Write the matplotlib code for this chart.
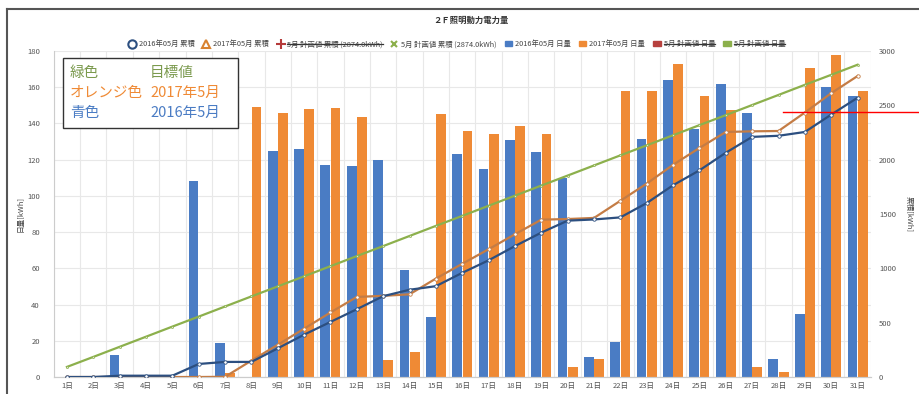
import numpy as np
import matplotlib.pyplot as plt
from matplotlib.lines import Line2D
from matplotlib.patches import Patch

plt.rcParams['font.family'] = ['Noto Sans CJK JP', 'DejaVu Sans']

days = [f"{d}日" for d in range(1, 32)]

# daily amounts [kWh]
daily_2016 = [0, 0, 12, 0, 0, 108, 19, 0, 125, 126, 117, 116.5, 120, 59, 33, 123,
              115, 131, 124, 110, 11, 19.5, 131.5, 164, 137, 162, 146, 10, 35, 160, 155]
daily_2017 = [0, 0, 0, 0, 0, 0, 2, 149, 146, 148, 148.5, 143.5, 9.5, 14, 145, 136,
              134, 138.5, 134, 5.5, 10, 158, 158, 173, 155, 147.5, 5.5, 3, 170.5, 178, 158]

# cumulative amounts [kWh]
cum_2016 = [0, 0, 12, 12, 12, 120, 139, 139, 264, 390, 507, 624, 744, 803, 836, 959,
            1074, 1205, 1329, 1439, 1450, 1469, 1601, 1765, 1902, 2064, 2210, 2220, 2255, 2415, 2570]
cum_2017 = [0, 0, 0, 0, 0, 0, 2, 151, 297, 445, 594, 737, 747, 761, 906, 1042,
            1176, 1314, 1448, 1454, 1464, 1622, 1780, 1953, 2108, 2255, 2261, 2264, 2434, 2612, 2770]
cum_plan = [93, 185, 278, 371, 464, 556, 649, 742, 834, 927, 1020, 1113, 1205, 1298, 1391, 1483,
            1576, 1669, 1762, 1854, 1947, 2040, 2132, 2225, 2318, 2410, 2503, 2596, 2689, 2781, 2874]

c_blue = '#4a7cc4'
c_orange = '#ef8a35'
c_blue_line = '#2c4f80'
c_orange_line = '#c47c45'
c_green = '#8cb04c'

x = np.arange(1, 32)
fig = plt.figure(figsize=(9.19, 3.94), dpi=100)
ax = fig.add_axes([0.0585, 0.0431, 0.889, 0.8274])
ax2 = ax.twinx()

w = 0.37
ax.bar(x - w / 2 - 0.01, daily_2016, w, color=c_blue, zorder=2)
ax.bar(x + w / 2 + 0.01, daily_2017, w, color=c_orange, zorder=2)
ax.set_ylim(0, 180)
ax.set_yticks(range(0, 181, 20))
ax.set_xlim(0.5, 31.5)
ax.set_xticks(x)
ax.set_xticklabels(days)
ax.set_xticks(np.arange(0.5, 32, 1), minor=True)
ax.grid(axis='x', which='minor', color='#e8e8e8', lw=0.8)
ax.grid(axis='y', which='major', color='#e8e8e8', lw=0.8)
ax.set_axisbelow(True)
ax.tick_params(which='both', length=0, labelsize=5.5, colors='#555555')
ax.tick_params(axis='y', pad=10)
ax.set_ylabel('日量[kWh]', fontsize=5.5, color='#444444', labelpad=2)

ax2.plot(x, cum_plan, color=c_green, lw=1.6, marker='o', ms=1.5, mfc='#dfe8cc', mec=c_green, mew=0.5, zorder=3)
ax2.plot(x, cum_2017, color=c_orange_line, lw=1.6, marker='o', ms=2.5, mfc='white', mec=c_orange_line, mew=0.6, zorder=4)
ax2.plot(x, cum_2016, color=c_blue_line, lw=1.6, marker='o', ms=2.5, mfc='white', mec=c_blue_line, mew=0.6, zorder=5)
ax2.set_ylim(0, 3000)
ax2.set_yticks(range(0, 3001, 500))
ax2.tick_params(length=0, labelsize=5.5, colors='#555555', pad=6)
ax2.set_ylabel('累積[kWh]', fontsize=5.5, color='#444444', rotation=270, labelpad=12)

for a in (ax, ax2):
    for s in ('top', 'right', 'left'):
        a.spines[s].set_visible(False)
    a.spines['bottom'].set_color('#cccccc')
ax.spines['left'].set_visible(True)
ax.spines['left'].set_color('#cccccc')

fig.text(0.512, 0.948, '２Ｆ照明動力電力量', ha='center', va='center', fontsize=6, fontweight='bold', color='#333333')

handles = [
    Line2D([], [], ls='none', marker='o', mfc='none', mec='#2c4f80', ms=6, mew=1.5),
    Line2D([], [], ls='none', marker='^', mfc='none', mec='#d9822f', ms=6, mew=1.5),
    Line2D([], [], ls='none', marker='+', mec='#b53a3a', ms=7, mew=1.5),
    Line2D([], [], ls='none', marker='x', mec=c_green, ms=5, mew=1.5),
    Patch(color=c_blue), Patch(color=c_orange), Patch(color='#b7413e'), Patch(color=c_green),
]
labels = ['2016年05月 累積', '2017年05月 累積', '5月 計画値 累積 (2874.0kWh)', '5月 計画値 累積 (2874.0kWh)',
          '2016年05月 日量', '2017年05月 日量', '5月 計画値 日量', '5月 計画値 日量']
leg = fig.legend(handles, labels, ncol=8, loc='center', bbox_to_anchor=(0.497, 0.888),
                 fontsize=5.3, frameon=False, handlelength=1.0, handletextpad=0.4,
                 columnspacing=1.1, labelcolor='#444444')

# strike through hidden series labels
fig.canvas.draw()
r = fig.canvas.get_renderer()
for i in (2, 6, 7):
    bb = leg.get_texts()[i].get_window_extent(r).transformed(fig.transFigure.inverted())
    ym = (bb.y0 + bb.y1) / 2
    fig.add_artist(Line2D([bb.x0, bb.x1], [ym, ym], color='#333333', lw=0.9))

# note box
fig.add_artist(plt.Rectangle((63 / 919, 1 - 128 / 394), 175 / 919, 70 / 394,
                             transform=fig.transFigure, fill=True, fc='white',
                             ec='#333333', lw=1.0, zorder=10))
rows = [('緑色', '目標値', '#7b9a4e'), ('オレンジ色', '2017年5月', '#ef8a35'), ('青色', '2016年5月', '#4a7cc4')]
for i, (a, b, c) in enumerate(rows):
    yy = 1 - (73 + i * 20) / 394
    fig.text(70 / 919, yy, a, color=c, fontsize=10.5, va='center', zorder=11)
    fig.text(150 / 919, yy, b, color=c, fontsize=10.5, va='center', zorder=11)

# outer frame and red mark
fig.add_artist(Line2D([7 / 919, 7 / 919], [0, 1 - 9 / 394], color='#555555', lw=1.5))
fig.add_artist(Line2D([7 / 919, 1], [1 - 9 / 394, 1 - 9 / 394], color='#555555', lw=1.5))
fig.add_artist(Line2D([783 / 919, 1], [1 - 112 / 394, 1 - 112 / 394], color='red', lw=1.0))

plt.savefig('out.png', dpi=100)
